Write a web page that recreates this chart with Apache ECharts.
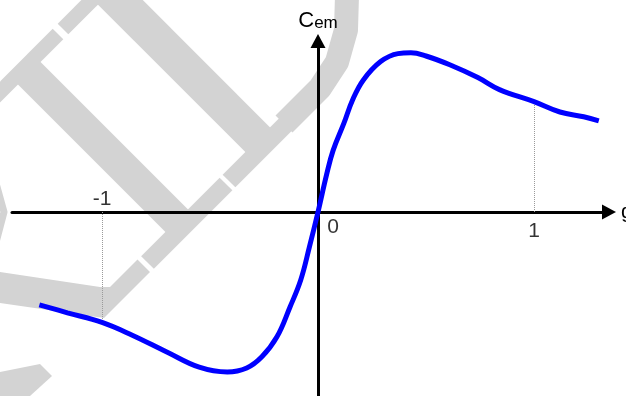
<!DOCTYPE html>
<html>
<head>
<meta charset="utf-8">
<script src="https://cdn.jsdelivr.net/npm/echarts@6/dist/echarts.min.js"></script>
<style>
  html, body { margin: 0; padding: 0; background: #fff; }
  #chart { width: 626px; height: 396px; }
</style>
</head>
<body>
<div id="chart"></div>
<script>
// Torque–slip characteristic Cem(g) of an induction machine (normalised torque)
const slip = [-1.29, -1.16, -1.0, -0.86, -0.70, -0.55, -0.42, -0.33, -0.26, -0.19, -0.13, -0.08, -0.04, 0,
              0.04, 0.07, 0.12, 0.16, 0.21, 0.29, 0.37, 0.43, 0.50, 0.61, 0.74, 0.84, 1.0, 1.12, 1.23, 1.30];
const torque = [-0.58, -0.63, -0.69, -0.77, -0.875, -0.97, -1.0, -0.975, -0.905, -0.78, -0.595, -0.425, -0.22, 0,
                0.235, 0.385, 0.555, 0.70, 0.825, 0.94, 0.99, 0.995, 0.975, 0.92, 0.84, 0.765, 0.69, 0.625, 0.595, 0.57];

// Axis tick labels and the slips that get a dotted guide down/up to the curve
const tickValues = [-1, 0, 1];
const tickLabels = ['-1', '0', '1'];
const guideSlips = [-1, 1];

const FONT = 'Liberation Sans, Arial, sans-serif';
const WATERMARK = '#d3d3d3';

const curve = slip.map((g, i) => [g, torque[i]]);
const torqueAt = g => torque[slip.indexOf(g)];

// label placement around the origin: "-1" above the axis, "0" and "1" below
const tickOffsets = { '-1': [0, -13], '0': [15, 15], '1': [0, 19] };

// Light background watermark (decorative strokes)
function band(points, width) {
  return {
    type: 'polyline', z: -10, silent: true,
    shape: { points },
    style: { stroke: WATERMARK, lineWidth: width, fill: null, lineCap: 'butt', lineJoin: 'round' }
  };
}
function patch(points) {
  return { type: 'polygon', z: -10, silent: true, shape: { points }, style: { fill: WATERMARK } };
}
const watermark = [
  band([[-12, 104], [58, 34]], 15),
  band([[63, 29], [100, -8]], 15),
  band([[20, 64], [185, 229]], 32),
  band([[98, -20], [264, 146]], 35),
  band([[347, -5], [346, 30], [337, 62], [320, 88], [300, 108], [284, 124]], 24),
  patch([[272, 129], [296, 104], [306, 114], [270, 150], [258, 143]]),
  band([[312, 98], [229, 181]], 18),
  band([[226, 184], [147.5, 262.5]], 18),
  patch([[137.5, 259.5], [150, 272], [104, 318], [0, 303], [0, 272], [100, 287], [110, 287]]),
  band([[-6, 176], [4, 212], [-6, 250]], 7),
  patch([[0, 372], [40, 364], [52, 376], [30, 396], [0, 396]])
];

const chart = echarts.init(document.getElementById('chart'), null, { renderer: 'canvas' });
chart.setOption({
  animation: false,
  backgroundColor: '#ffffff',
  graphic: { elements: watermark },
  grid: { left: 12, right: 17, top: 41, bottom: 0, containLabel: false, outerBoundsMode: 'none' },
  xAxis: {
    type: 'value',
    min: -1.4167, max: 1.3472,
    name: 'g',
    nameLocation: 'end',
    nameGap: 12,
    nameTextStyle: { fontFamily: FONT, fontSize: 21, color: '#000', verticalAlign: 'middle' },
    axisLine: {
      onZero: true,
      symbol: ['none', 'triangle'],
      symbolSize: [15, 14],
      lineStyle: { color: '#000', width: 3 }
    },
    axisTick: { show: false },
    axisLabel: { show: false },
    splitLine: { show: false }
  },
  yAxis: {
    type: 'value',
    min: -1.15, max: 1.06875,
    name: '{c|C}{s|em}',
    nameLocation: 'end',
    nameGap: 9,
    nameTextStyle: {
      color: '#000',
      rich: {
        c: { fontFamily: FONT, fontSize: 22, color: '#000', verticalAlign: 'bottom' },
        s: { fontFamily: FONT, fontSize: 17, color: '#000', verticalAlign: 'bottom' }
      }
    },
    axisLine: {
      onZero: true,
      symbol: ['none', 'triangle'],
      symbolSize: [15, 14],
      lineStyle: { color: '#000', width: 3 }
    },
    axisTick: { show: false },
    axisLabel: { show: false },
    splitLine: { show: false }
  },
  series: [
    {
      type: 'line',
      data: curve,
      smooth: 0.4,
      showSymbol: false,
      z: 5,
      lineStyle: { color: '#0000ff', width: 5 },
      markLine: {
        silent: true,
        symbol: ['none', 'none'],
        label: { show: false },
        lineStyle: { color: '#9a9a9a', type: 'dotted', width: 1 },
        data: guideSlips.map(g => [{ coord: [g, 0] }, { coord: [g, torqueAt(g)] }])
      }
    },
    {
      type: 'scatter',
      silent: true,
      symbolSize: 0,
      z: 6,
      data: tickValues.map((v, i) => ({
        value: [v, 0],
        label: { offset: tickOffsets[tickLabels[i]] }
      })),
      label: {
        show: true,
        position: 'inside',
        fontFamily: FONT,
        fontSize: 21,
        color: '#000',
        formatter: p => tickLabels[p.dataIndex]
      }
    }
  ]
});
</script>
</body>
</html>
